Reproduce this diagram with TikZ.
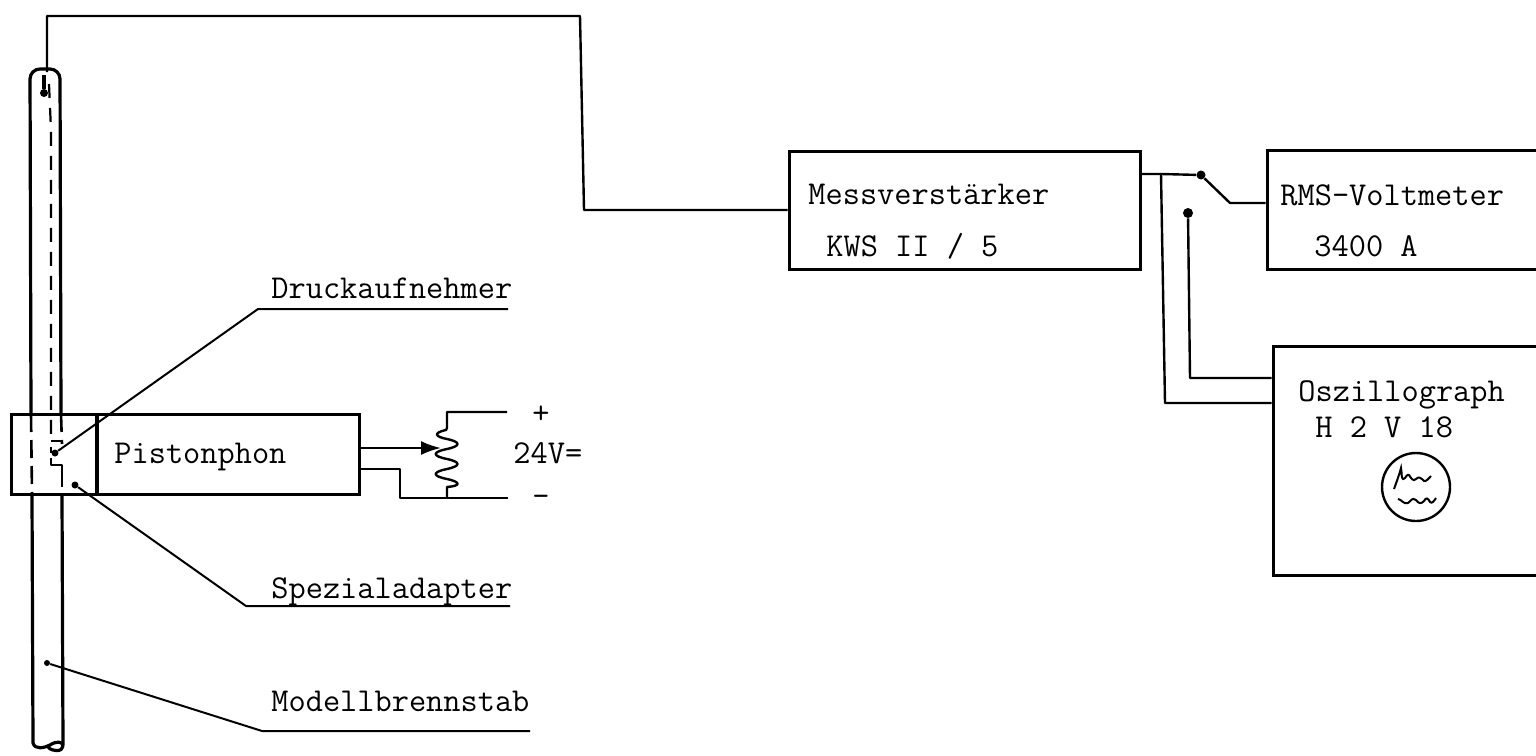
\documentclass[tikz,border=0pt]{standalone}
\usetikzlibrary{arrows.meta}
\tikzset{
  box/.style={draw=black,line width=1.5pt,inner sep=0pt,rectangle},
  wire/.style={draw=black,line width=1.2pt,line join=round},
  heavy/.style={draw=black,line width=1.6pt,line join=round},
  dashwall/.style={draw=black,line width=1.3pt,dash pattern=on 9pt off 4pt},
  dotmark/.style={circle,fill=black,inner sep=0pt,minimum size=3.5pt},
  contact/.style={circle,fill=black,inner sep=0pt,minimum size=4.5pt},
  lbl/.style={anchor=base west,inner sep=0pt,font=\fontsize{16.7pt}{18pt}\selectfont\ttfamily,text=black},
}
\begin{document}
\begin{tikzpicture}[x=0.5pt,y=-0.5pt]
\useasboundingbox (0,0) rectangle (1536,755);
\clip (0,0) rectangle (1536,755);
% Boxes
\node[box,minimum width=174pt,minimum height=40pt] (adapter) at (185,454) {};
\coordinate (divT) at (97,414); \coordinate (divB) at (97,494);
\draw[heavy] (divT) -- (divB);
\node[box,minimum width=175.5pt,minimum height=59pt] (mess) at (964.5,210) {};
\node[box,minimum width=135pt,minimum height=59.5pt] (rms) at (1402,209.5) {};
\node[box,minimum width=140pt,minimum height=114.5pt] (osz) at (1413,460.5) {};
% Rod
\coordinate (rodTL) at (31,414); \coordinate (rodTR) at (61,414);
\coordinate (rodBL) at (32,494); \coordinate (rodBR) at (62,494);
\draw[heavy,rounded corners=5pt] (rodTL) -- (30,69) -- (60,69) -- (rodTR);
\draw[heavy] (rodBL) -- (33,743) .. controls (35,750) and (44,748) .. (50,745)
  .. controls (56,741) and (63,741) .. (63,746) .. controls (63,752) and (52,752) .. (48,747);
\draw[heavy] (rodBR) -- (63,745);
\draw[dashwall] (rodTL) -- (rodBL);
\draw[dashwall] (rodTR) -- (62,444);
\draw[dashwall,dash pattern=on 7pt off 3pt] (62,473) -- (rodBR);
% Inner wall and transducer
\coordinate (tA) at (51,441);
\coordinate (inTop) at (49,84);
\draw[dashwall,line width=1.1pt,dash pattern=on 7pt off 5pt] (inTop) -- (51,130) -- (tA);
\draw[wire] (tA) -- (62,441);
\draw[wire] (51,447) -- (51,453);
\draw[wire] (51,458) -- (51,465) -- (62,465) -- (62,473);
% Top wire
\node[contact,minimum size=4pt] (probe) at (44,93) {};
\coordinate (wt) at (47,72);
\draw[wire] (wt) -- (47,16) -- (580,16) -- (584,210) -- (mess.west);
\draw[heavy] (44,75) -- (probe);
% Leaders
\node[dotmark] (d1) at (55,453) {};
\node[dotmark] (d2) at (75,485) {};
\node[dotmark,minimum size=3pt] (d3) at (47,663) {};
\coordinate (u1a) at (258,309); \coordinate (u1b) at (508,309);
\coordinate (u2a) at (246,606); \coordinate (u2b) at (510,606);
\coordinate (u3a) at (262,731); \coordinate (u3b) at (530,731);
\draw[wire,line width=1pt] (d1) -- (u1a) -- (u1b);
\draw[wire,line width=1pt] (d2) -- (u2a) -- (u2b);
\draw[wire,line width=1pt] (d3) -- (u3a) -- (u3b);
% Potentiometer
\coordinate (pT) at (447,428); \coordinate (pB) at (447,487);
\coordinate (tp) at (507,412); \coordinate (bt) at (508,498);
\draw[wire] (tp) -- (447,412) -- (pT) -- (446,430)
  .. controls (432,433) and (436,437) .. (447,439)
  .. controls (461,442) and (461,446) .. (447,449)
  .. controls (432,452) and (432,456) .. (447,459)
  .. controls (461,462) and (461,466) .. (447,469)
  .. controls (432,472) and (432,476) .. (447,479)
  .. controls (461,482) and (461,486) .. (pB) -- (447,498);
\draw[wire] (bt) -- (400,498) -- (400,469) -- (adapter.east |- 0,469);
\draw[wire,-{Latex[length=10pt,width=7pt]}] (adapter.east |- 0,448) -- (441,448);
% Switch
\node[contact] (sw1) at (1201,175) {};
\node[contact,minimum size=5pt] (sw2) at (1188,213) {};
\coordinate (j1) at (1161,174);
\coordinate (k1) at (1230,203);
\draw[wire] (mess.east |- j1) -- (j1) -- (sw1) -- (k1) -- (rms.west |- k1);
\draw[wire] (j1) -- (1165,403) -- (osz.west |- 0,403);
\draw[wire] (sw2) -- (1190,378) -- (osz.west |- 0,378);
% Labels
\node[lbl] (t1) at (271,298) {Druckaufnehmer};
\node[lbl] (t2) at (271,598) {Spezialadapter};
\node[lbl] (t3) at (271,711) {Modellbrennstab};
\node[lbl] (t4) at (114,463) {Pistonphon};
\node[lbl] (t5) at (513,463) {24V=};
\node[lbl] (t6) at (532,423) {+};
\node[lbl] (t7) at (532,506) {-};
\node[lbl] (t8) at (808,204) {Messverst\"arker};
\node[lbl] (t9) at (826,256) {KWS II / 5};
\node[lbl] (t10) at (1280,205) {RMS-Voltmeter};
\node[lbl] (t11) at (1314,256) {3400 A};
\node[lbl] (t12) at (1298,401) {Oszillograph};
\node[lbl] (t13) at (1315,437) {H 2 V 18};
% Scope symbol
\node[circle,draw=black,line width=1.2pt,minimum size=34pt,inner sep=0pt] (scope) at (1416,487) {};
\draw[black,line width=1pt] (1394,489) .. controls (1398,478) and (1400,472) .. (1401,468)
  .. controls (1402,472) and (1401,478) .. (1403,479) .. controls (1405,480) and (1407,473) .. (1409,475)
  .. controls (1411,478) and (1413,482) .. (1416,479) .. controls (1419,476) and (1421,478) .. (1424,481)
  .. controls (1426,482) and (1429,478) .. (1431,476);
\draw[black,line width=1pt] (1398,499) .. controls (1401,499) and (1404,505) .. (1408,503)
  .. controls (1411,501) and (1412,497) .. (1416,500) .. controls (1419,504) and (1421,504) .. (1424,501)
  .. controls (1426,497) and (1428,498) .. (1430,502) .. controls (1432,504) and (1434,501) .. (1436,498);
\end{tikzpicture}
\end{document}
